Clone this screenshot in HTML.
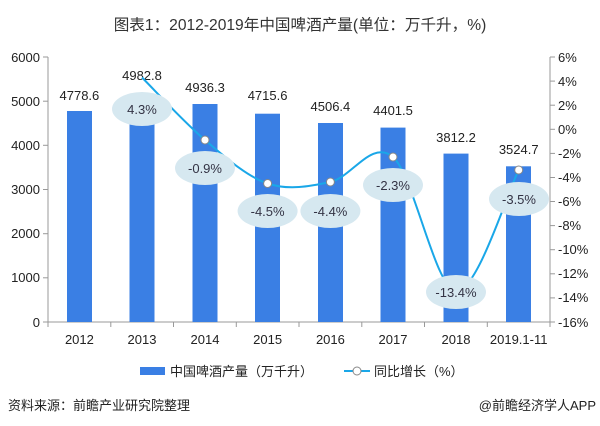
<!DOCTYPE html>
<html><head><meta charset="utf-8"><style>
body{margin:0;background:#fff;}
svg{display:block;font-family:"Liberation Sans","Noto Sans CJK SC",sans-serif;}
</style></head><body>
<svg width="600" height="426" viewBox="0 0 600 426">
<text x="300" y="30" text-anchor="middle" font-size="15.6" fill="#333">图表1：2012-2019年中国啤酒产量(单位：万千升，%)</text>
<g stroke="#999" stroke-width="1" fill="none">
<line x1="48" y1="57" x2="48" y2="322"/>
<line x1="550" y1="57" x2="550" y2="322"/>
<line x1="48" y1="322" x2="550" y2="322"/>
</g>
<g stroke="#999">
<line x1="43" y1="57" x2="48" y2="57"/><line x1="43" y1="101.2" x2="48" y2="101.2"/><line x1="43" y1="145.3" x2="48" y2="145.3"/><line x1="43" y1="189.5" x2="48" y2="189.5"/><line x1="43" y1="233.7" x2="48" y2="233.7"/><line x1="43" y1="277.8" x2="48" y2="277.8"/><line x1="43" y1="322" x2="48" y2="322"/>
<line x1="48" y1="322" x2="48" y2="327"/><line x1="110.8" y1="322" x2="110.8" y2="327"/><line x1="173.5" y1="322" x2="173.5" y2="327"/><line x1="236.3" y1="322" x2="236.3" y2="327"/><line x1="299" y1="322" x2="299" y2="327"/><line x1="361.8" y1="322" x2="361.8" y2="327"/><line x1="424.5" y1="322" x2="424.5" y2="327"/><line x1="487.3" y1="322" x2="487.3" y2="327"/><line x1="550" y1="322" x2="550" y2="327"/>
</g>
<g stroke="#999">
<line x1="550" y1="57" x2="555" y2="57"/><line x1="550" y1="81.1" x2="555" y2="81.1"/><line x1="550" y1="105.2" x2="555" y2="105.2"/><line x1="550" y1="129.3" x2="555" y2="129.3"/><line x1="550" y1="153.4" x2="555" y2="153.4"/><line x1="550" y1="177.5" x2="555" y2="177.5"/><line x1="550" y1="201.5" x2="555" y2="201.5"/><line x1="550" y1="225.6" x2="555" y2="225.6"/><line x1="550" y1="249.7" x2="555" y2="249.7"/><line x1="550" y1="273.8" x2="555" y2="273.8"/><line x1="550" y1="297.9" x2="555" y2="297.9"/><line x1="550" y1="322" x2="555" y2="322"/>
</g>
<g font-size="13" fill="#222" text-anchor="end">
<text x="40" y="62">6000</text><text x="40" y="106">5000</text><text x="40" y="150">4000</text><text x="40" y="194">3000</text><text x="40" y="238">2000</text><text x="40" y="282">1000</text><text x="40" y="327">0</text>
</g>
<g font-size="13" fill="#222" text-anchor="start">
<text x="558" y="62">6%</text><text x="558" y="86">4%</text><text x="558" y="110">2%</text><text x="558" y="134">0%</text><text x="558" y="158">-2%</text><text x="558" y="182">-4%</text><text x="558" y="206">-6%</text><text x="558" y="230">-8%</text><text x="558" y="254">-10%</text><text x="558" y="278">-12%</text><text x="558" y="302">-14%</text><text x="558" y="327">-16%</text>
</g>
<g font-size="13" fill="#222" text-anchor="middle">
<text x="79.4" y="344">2012</text><text x="142" y="344">2013</text><text x="205" y="344">2014</text><text x="267.6" y="344">2015</text><text x="330.4" y="344">2016</text><text x="393" y="344">2017</text><text x="456" y="344">2018</text><text x="518.7" y="344">2019.1-11</text>
</g>
<g fill="#3a7fe4">
<rect x="67" y="111" width="25" height="211"/>
<rect x="129.5" y="102" width="25" height="220"/>
<rect x="192.5" y="104" width="25" height="218"/>
<rect x="255" y="113.7" width="25" height="208.3"/>
<rect x="318" y="123" width="25" height="199"/>
<rect x="380.5" y="127.6" width="25" height="194.4"/>
<rect x="443.5" y="153.6" width="25" height="168.4"/>
<rect x="506" y="166.3" width="25" height="155.7"/>
</g>
<g font-size="13" fill="#222" text-anchor="middle">
<text x="79.4" y="100">4778.6</text><text x="142" y="80">4982.8</text><text x="205" y="92">4936.3</text><text x="267.6" y="100">4715.6</text><text x="330.4" y="111">4506.4</text><text x="393" y="115">4401.5</text><text x="456" y="142">3812.2</text><text x="518.7" y="154">3524.7</text>
</g>
<path d="M142,77.5 C152.5,87.9 184.1,122.3 205,140 C225.9,157.7 246.7,176.5 267.6,183.5 C288.5,190.5 309.5,186.4 330.4,182 C351.3,177.6 372.1,138.8 393,157 C413.9,175.2 435.1,288.8 456,291 C476.9,293.2 508.2,190.2 518.7,170" fill="none" stroke="#1aa7e8" stroke-width="2"/>
<g fill="#fff" stroke="#888" stroke-width="1">
<circle cx="205" cy="140" r="4"/><circle cx="267.6" cy="183.5" r="4"/><circle cx="330.4" cy="182" r="4"/><circle cx="393" cy="157" r="4"/><circle cx="518.7" cy="170" r="4"/>
</g>
<g fill="#d6e8f0">
<ellipse cx="142" cy="109" rx="30" ry="17"/>
<ellipse cx="205" cy="168" rx="30" ry="17"/>
<ellipse cx="267.6" cy="211" rx="30" ry="17"/>
<ellipse cx="330.4" cy="211" rx="30" ry="17"/>
<ellipse cx="393" cy="185" rx="30" ry="17"/>
<ellipse cx="456" cy="292" rx="30" ry="17"/>
<ellipse cx="519" cy="199" rx="30" ry="17"/>
</g>
<g font-size="13" fill="#334" text-anchor="middle">
<text x="142" y="114">4.3%</text><text x="205" y="173">-0.9%</text><text x="267.6" y="216">-4.5%</text><text x="330.4" y="216">-4.4%</text><text x="393" y="190">-2.3%</text><text x="456" y="297">-13.4%</text><text x="519" y="204">-3.5%</text>
</g>
<rect x="140" y="367" width="25" height="8" fill="#3a7fe4"/>
<text x="170" y="376" font-size="13" fill="#222">中国啤酒产量（万千升）</text>
<line x1="344" y1="371" x2="370" y2="371" stroke="#1aa7e8" stroke-width="2"/>
<circle cx="357" cy="371" r="4" fill="#fff" stroke="#888"/>
<text x="374" y="376" font-size="13" fill="#222">同比增长（%）</text>
<text x="8" y="410" font-size="13" fill="#222">资料来源：前瞻产业研究院整理</text>
<text x="596" y="410" font-size="13" fill="#222" text-anchor="end">@前瞻经济学人APP</text>
</svg>
</body></html>
